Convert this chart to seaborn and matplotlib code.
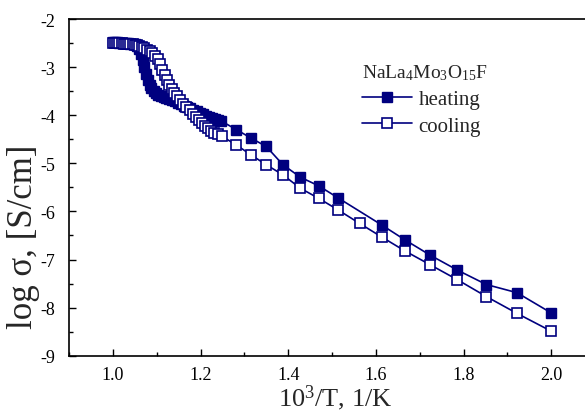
import numpy as np
import pandas as pd
import seaborn as sns
import matplotlib.pyplot as plt
from matplotlib.ticker import MultipleLocator

# heating run (filled squares)
heat_x = [1.000, 1.005, 1.010, 1.015, 1.020, 1.025, 1.030, 1.035, 1.040, 1.045,
          1.050, 1.055, 1.060, 1.064, 1.068, 1.072, 1.076, 1.080, 1.084, 1.088,
          1.093, 1.098, 1.104, 1.110, 1.116, 1.122, 1.128, 1.135, 1.142, 1.149,
          1.156, 1.163, 1.170, 1.177, 1.184, 1.191, 1.198, 1.205, 1.212, 1.219,
          1.226, 1.233, 1.240, 1.247,
          1.282, 1.316, 1.350, 1.388, 1.428, 1.470, 1.514, 1.613, 1.666, 1.724,
          1.786, 1.852, 1.922, 2.000]
heat_y = [-2.48, -2.48, -2.48, -2.49, -2.49, -2.49, -2.50, -2.50, -2.51, -2.52,
          -2.53, -2.56, -2.62, -2.72, -2.85, -3.00, -3.14, -3.27, -3.37, -3.44,
          -3.50, -3.54, -3.57, -3.60, -3.62, -3.64, -3.66, -3.68, -3.71, -3.74,
          -3.77, -3.80, -3.83, -3.86, -3.89, -3.92, -3.95, -3.98, -4.01, -4.04,
          -4.06, -4.08, -4.10, -4.12,
          -4.30, -4.48, -4.65, -5.03, -5.29, -5.47, -5.72, -6.28, -6.59, -6.91,
          -7.22, -7.52, -7.69, -8.11]

# cooling run (open squares)
cool_x = [1.000, 1.005, 1.010, 1.015, 1.020, 1.025, 1.030, 1.035, 1.040, 1.045,
          1.050, 1.055, 1.060, 1.066, 1.072, 1.078, 1.084, 1.090, 1.096, 1.102,
          1.108, 1.113, 1.118, 1.123, 1.128, 1.134, 1.140, 1.147, 1.154, 1.161,
          1.168, 1.175, 1.182, 1.189, 1.196, 1.203, 1.210, 1.217, 1.224, 1.231,
          1.240, 1.249,
          1.282, 1.316, 1.350, 1.388, 1.428, 1.470, 1.514, 1.563, 1.613, 1.666,
          1.724, 1.786, 1.852, 1.922, 2.000]
cool_y = [-2.49, -2.49, -2.50, -2.50, -2.50, -2.51, -2.51, -2.52, -2.52, -2.53,
          -2.54, -2.55, -2.57, -2.59, -2.61, -2.64, -2.67, -2.71, -2.77, -2.84,
          -2.94, -3.05, -3.16, -3.27, -3.37, -3.46, -3.54, -3.61, -3.68, -3.76,
          -3.83, -3.90, -3.97, -4.04, -4.10, -4.16, -4.22, -4.27, -4.32, -4.36,
          -4.40, -4.44,
          -4.62, -4.83, -5.03, -5.24, -5.52, -5.73, -5.97, -6.25, -6.53, -6.82,
          -7.11, -7.42, -7.77, -8.12, -8.49]

heat = pd.DataFrame({"x": heat_x, "y": heat_y})
cool = pd.DataFrame({"x": cool_x, "y": cool_y})

sns.set_style("ticks")
plt.rcParams["font.family"] = "serif"
plt.rcParams["font.serif"] = ["Liberation Serif", "Times New Roman", "DejaVu Serif"]
plt.rcParams["mathtext.fontset"] = "custom"
plt.rcParams["mathtext.rm"] = "Liberation Serif"
plt.rcParams["mathtext.it"] = "Liberation Serif:italic"

navy = "#00007f"

fig = plt.figure(figsize=(5.85, 4.14), dpi=100)
ax = fig.add_axes([69 / 585, (414 - 356.7) / 414, 526 / 585, 336.7 / 414])

sns.lineplot(data=heat, x="x", y="y", ax=ax, sort=False, estimator=None,
             color=navy, lw=1.2, marker="s", ms=7, mfc=navy, mec=navy,
             mew=1, label="heating")
sns.lineplot(data=cool, x="x", y="y", ax=ax, sort=False, estimator=None,
             color=navy, lw=1.2, marker="s", ms=7, mfc="white", mec=navy,
             mew=1.2, label="cooling")

ax.set_xlim(0.9, 2.1)
ax.set_ylim(-9, -2)
ax.xaxis.set_major_locator(MultipleLocator(0.2))
ax.xaxis.set_minor_locator(MultipleLocator(0.1))
ax.yaxis.set_major_locator(MultipleLocator(1))
ax.yaxis.set_minor_locator(MultipleLocator(0.5))
ax.xaxis.set_major_formatter(plt.FuncFormatter(lambda v, p: f"{v:.1f}"))
ax.yaxis.set_major_formatter(plt.FuncFormatter(lambda v, p: f"{v:.0f}"))
ax.tick_params(which="both", direction="in", colors="black", labelsize=13)
ax.tick_params(which="major", length=5, width=1)
ax.tick_params(which="minor", length=3, width=1)
ax.tick_params(axis="x", which="major", pad=7.5)
ax.tick_params(axis="y", which="major", pad=10)
for s in ax.spines.values():
    s.set_linewidth(1.2)
    s.set_color("black")

ax.set_xlabel(r"10$^3$/T, 1/K", fontsize=19)
ax.xaxis.set_label_coords((335 - 69) / 526, (356.7 - 383) / 336.7)
ax.set_ylabel("log σ, [S/cm]", fontsize=25)
ax.yaxis.set_label_coords((40 - 69) / 526, (356.7 - 237) / 336.7)

leg = ax.legend(title=r"NaLa$_4$Mo$_3$O$_{15}$F", frameon=False, fontsize=15,
                title_fontsize=14, loc="upper left",
                bbox_to_anchor=((354 - 69) / 526, (356.7 - 55) / 336.7),
                borderaxespad=0, handlelength=2.4, handletextpad=0.3,
                labelspacing=0.35)
leg._legend_box.align = "left"

fig.savefig("out.png", dpi=100)
